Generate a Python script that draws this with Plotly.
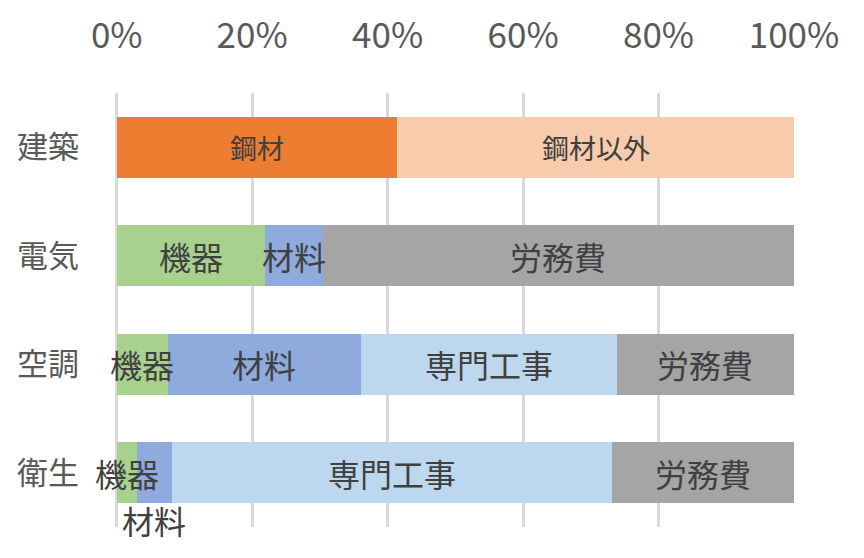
import plotly.graph_objects as go

categories = ["建築", "電気", "空調", "衛生"]
segments = ["鋼材", "鋼材以外", "機器", "材料", "専門工事", "労務費"]
colors = ["#ED7D31", "#F8CBAD", "#A9D18E", "#8FAADC", "#BDD7EE", "#A5A5A5"]
values = {
    "鋼材":     [41.4, None, None, None],
    "鋼材以外": [58.6, None, None, None],
    "機器":     [None, 21.9, 7.5, 3.0],
    "材料":     [None, 8.5, 28.5, 5.1],
    "専門工事": [None, None, 37.8, 65.1],
    "労務費":   [None, 69.6, 26.2, 26.8],
}
tick_vals = [0, 20, 40, 60, 80, 100]
tick_text = ["0%", "20%", "40%", "60%", "80%", "100%"]

FONT = "Noto Sans CJK JP"
fig = go.Figure()
for seg, col in zip(segments, colors):
    fig.add_trace(go.Bar(
        y=categories, x=values[seg], name=seg, orientation="h",
        marker=dict(color=col, line=dict(width=0)), showlegend=False,
        hoverinfo="skip",
    ))

# labels at segment centres
annotations = []
for i, cat in enumerate(categories):
    cum = 0.0
    for seg in segments:
        v = values[seg][i]
        if v is None:
            continue
        center = cum + v / 2
        cum += v
        size = 27 if seg in ("鋼材", "鋼材以外") else 32
        yshift = 0
        if cat == "衛生" and seg == "材料":
            yshift = -47
        annotations.append(dict(
            x=center, y=cat, xref="x", yref="y", text=seg, showarrow=False,
            font=dict(family=FONT, size=size, color="#404040"), yshift=yshift,
        ))

fig.update_layout(
    width=864, height=558,
    margin=dict(l=106, r=78, t=85, b=39, autoexpand=False),
    barmode="stack", bargap=0.436,
    plot_bgcolor="white", paper_bgcolor="white",
    font=dict(family=FONT, color="#595959"),
    annotations=annotations,
    xaxis=dict(
        side="top", range=[-0.4, 100], tickvals=tick_vals, ticktext=tick_text,
        showgrid=True, gridcolor="#D9D9D9", gridwidth=3,
        zeroline=True, zerolinecolor="#D9D9D9", zerolinewidth=3,
        showline=False, tickfont=dict(family=FONT, size=35, color="#595959"),
        ticklabelstandoff=37, automargin=False,
    ),
    yaxis=dict(
        autorange="reversed", showgrid=False, zeroline=False, showline=False,
        tickfont=dict(family=FONT, size=31, color="#595959"),
        ticklabelstandoff=34, automargin=False,
    ),
)

fig.write_html("out.html")
